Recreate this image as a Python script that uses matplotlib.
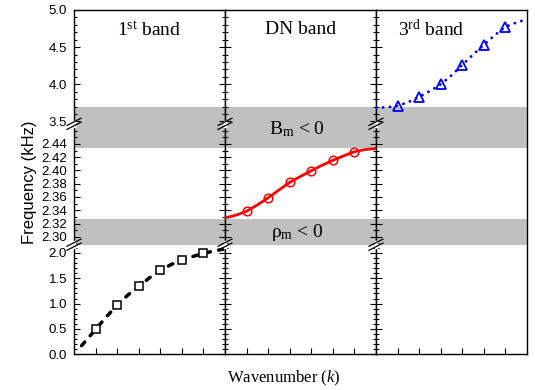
import numpy as np
import matplotlib
matplotlib.use("Agg")
import matplotlib.pyplot as plt
from matplotlib.lines import Line2D
from matplotlib.transforms import IdentityTransform

plt.rcParams["font.family"] = ["Liberation Sans", "DejaVu Sans"]
plt.rcParams["mathtext.fontset"] = "custom"
plt.rcParams["mathtext.rm"] = "Liberation Serif"
plt.rcParams["mathtext.it"] = "Liberation Serif:italic"

# Dispersion data: markers at k = 1..6, guide lines across each panel
k_pts = [1, 2, 3, 4, 5, 6]

band1_pts = [0.49, 0.97, 1.34, 1.66, 1.86, 1.99]
band1_k = [0.35, 1, 1.5, 2, 2.5, 3, 3.5, 4, 4.5, 5, 5.5, 6, 6.5, 7]
band1_line = [0.17, 0.49, 0.74, 0.97, 1.17, 1.34, 1.51, 1.66, 1.77, 1.86, 1.93, 1.99, 2.04, 2.08]

dn_pts = [2.3385, 2.3587, 2.382, 2.3996, 2.4152, 2.4282]
dn_k = [0, 0.5, 1, 1.5, 2, 2.5, 3, 3.5, 4, 4.5, 5, 5.5, 6, 6.5, 7]
dn_line = [2.3286, 2.3325, 2.3385, 2.348, 2.3587, 2.3705, 2.382, 2.391,
           2.3996, 2.4078, 2.4152, 2.422, 2.4282, 2.4315, 2.433]

band3_pts = [3.71, 3.83, 4.00, 4.26, 4.53, 4.775]
band3_k = [0, 0.5, 1, 1.5, 2, 2.5, 3, 3.5, 4, 4.5, 5, 5.5, 6, 6.5, 7]
band3_line = [3.685, 3.69, 3.71, 3.76, 3.83, 3.91, 4.00, 4.12, 4.26, 4.40,
              4.53, 4.66, 4.775, 4.83, 4.875]

# negative-parameter gaps
bm_gap = (2.434, 3.7)
rho_gap = (2.15, 2.327)

# broken frequency axis: piecewise linear scale
brk_val = [0.0, 2.16, 2.2884, 2.47, 3.47, 5.0]
brk_pos = [0.0, 109.7, 110.0, 230.8, 231.1, 345.0]


def fwd(v):
    return np.interp(v, brk_val, brk_pos)


def inv(p):
    return np.interp(p, brk_pos, brk_val)


major = [0.0, 0.5, 1.0, 1.5, 2.0] + [round(2.30 + 0.02 * i, 2) for i in range(8)] + [3.5, 4.0, 4.5, 5.0]
major_lbl = ["%.1f" % v if (v < 2.2 or v > 3) else "%.2f" % v for v in major]
minor = ([round(0.1 * i, 2) for i in range(22)]
         + [round(2.29 + 0.01 * i, 2) for i in range(18)]
         + [round(3.5 + 0.1 * i, 2) for i in range(16)])

fig = plt.figure(figsize=(5.35, 3.9), dpi=100)
axes = fig.subplots(1, 3, sharey=True, gridspec_kw={"wspace": 0})
fig.subplots_adjust(left=74 / 535, right=527 / 535, bottom=35.7 / 390, top=380 / 390)

gray = "#c0c0c0"
for i, ax in enumerate(axes):
    ax.set_yscale("function", functions=(fwd, inv))
    ax.set_ylim(0, 5.0)
    ax.set_xlim(0, 7)
    ax.axhspan(*bm_gap, color=gray, lw=0, zorder=0)
    ax.axhspan(*rho_gap, color=gray, lw=0, zorder=0)
    ax.set_xticks(k_pts)
    ax.tick_params(axis="x", which="both", direction="in", length=4, width=0.8,
                   labelbottom=False, top=False)
    ax.tick_params(axis="y", which="major", direction="in", length=4.3, width=0.8)
    ax.tick_params(axis="y", which="minor", direction="in", length=2.2, width=0.8)
    ax.tick_params(axis="y", which="both", left=True, right=(i < 2), labelsize=9.5, pad=5)
    for s in ax.spines.values():
        s.set_linewidth(1.0)

axes[0].set_yticks(major)
axes[0].set_yticklabels(major_lbl)
axes[0].set_yticks(minor, minor=True)

axes[0].plot(band1_k, band1_line, color="black", lw=2.5, dashes=(1.4, 2.4),
             dash_capstyle="round", zorder=3)
axes[0].plot(k_pts, band1_pts, ls="none", marker="s", ms=6.2, mfc="white",
             mec="black", mew=1.1, zorder=4)

axes[1].plot(dn_k, dn_line, color="red", lw=2.0, zorder=3)
axes[1].plot(k_pts, dn_pts, ls="none", marker="o", ms=6.2, mfc="none",
             mec="red", mew=1.1, zorder=4)

axes[2].plot(band3_k, band3_line, color="blue", lw=2.0, dashes=(0.1, 2.4),
             dash_capstyle="round", zorder=3)
axes[2].plot(k_pts, band3_pts, ls="none", marker="^", ms=7.5, mfc="none",
             mec="blue", mew=1.3, zorder=4)

serif = ["Liberation Serif", "DejaVu Serif"]
ty = 0.942
axes[0].text(0.5, ty, r"1$^{\mathrm{st}}$ band", transform=axes[0].transAxes,
             ha="center", va="center", fontsize=14, family=serif)
axes[1].text(0.5, ty, "DN band", transform=axes[1].transAxes,
             ha="center", va="center", fontsize=14, family=serif)
axes[2].text(0.365, ty, r"3$^{\mathrm{rd}}$ band", transform=axes[2].transAxes,
             ha="center", va="center", fontsize=14, family=serif)
ytr = axes[1].get_yaxis_transform()
axes[1].text(0.48, inv(226), r"B$_{\mathrm{m}}$ < 0", transform=ytr,
             ha="center", va="center", fontsize=14, family=serif)
axes[1].text(0.48, inv(122), r"ρ$_{\mathrm{m}}$ < 0", transform=ytr,
             ha="center", va="center", fontsize=14, family=serif)

axes[0].set_ylabel("Frequency (kHz)", fontsize=12, labelpad=3)
fig.text(284 / 535, 12 / 390, r"Wavenumber ($k$)", ha="center", va="center",
         fontsize=12, family=serif)

# break marks on the inner spines
fig.canvas.draw()
for ax in axes:
    for p in (109.85, 230.95):
        x0, y0 = ax.transAxes.transform((0, p / brk_pos[-1]))
        fig.add_artist(Line2D([x0, x0], [y0 - 2.2, y0 + 2.2], color="white", lw=2.5,
                              transform=IdentityTransform(), zorder=5))
        for dy in (-2.0, 2.0):
            fig.add_artist(Line2D([x0 - 7, x0 + 7], [y0 + dy - 3.6, y0 + dy + 3.6],
                                  color="black", lw=0.9,
                                  transform=IdentityTransform(), zorder=6))

fig.savefig("out.png", dpi=100)
